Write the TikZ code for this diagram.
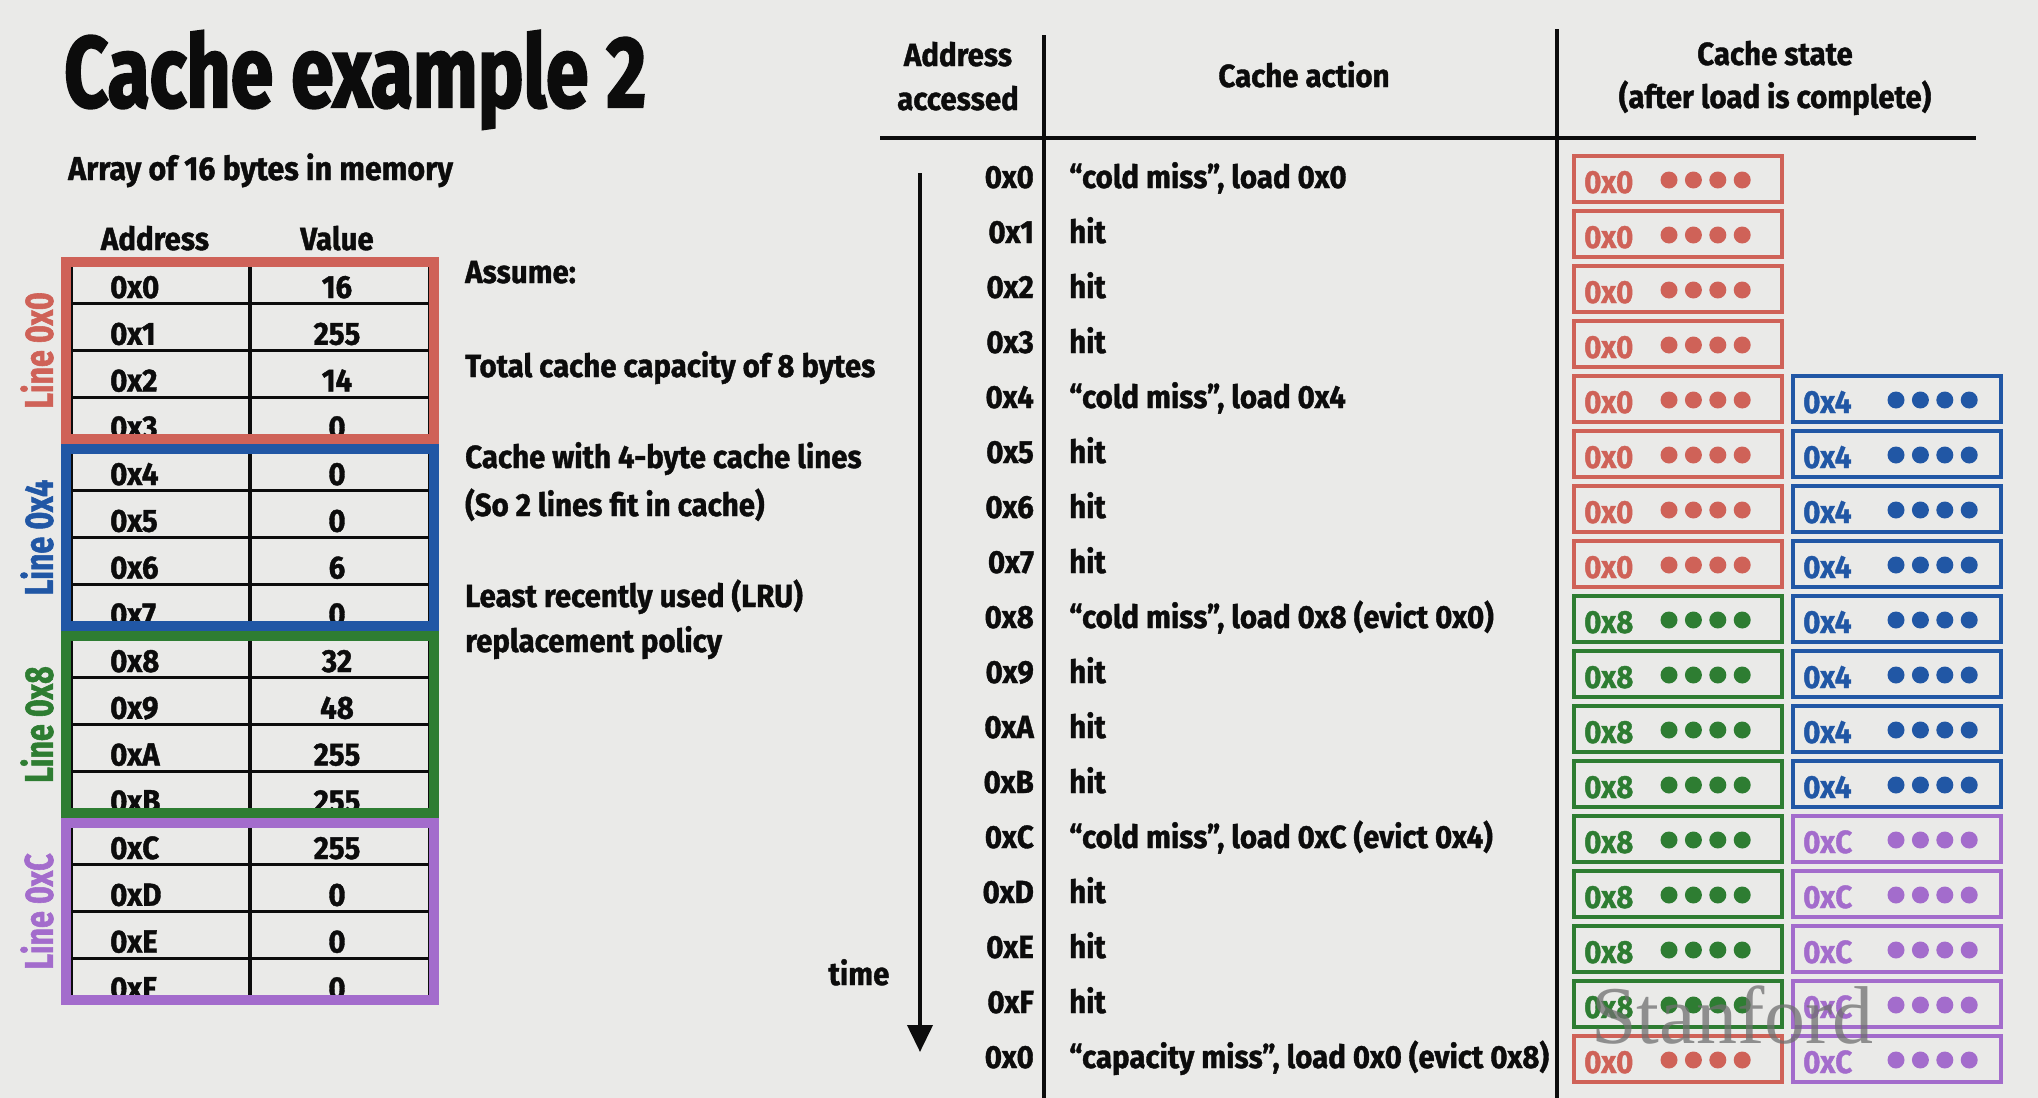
\documentclass[tikz,border=0pt]{standalone}
\usepackage{fontspec}
\setmainfont{Fira Sans}[FakeStretch=0.92, BoldFeatures={FakeBold=1.2}]
\newfontfamily\titlefont{Fira Sans}[FakeStretch=0.76, BoldFeatures={FakeBold=2}]
\newfontfamily\labelfont{Fira Sans}[FakeStretch=0.76, BoldFeatures={FakeBold=1.4}]
\newfontfamily\wmfont{Liberation Serif}
\usetikzlibrary{arrows.meta}
\definecolor{bg}{RGB}{234,234,232}
\definecolor{ink}{RGB}{12,12,12}
\definecolor{cred}{RGB}{207,98,88}
\definecolor{cblue}{RGB}{33,87,165}
\definecolor{cgreen}{RGB}{46,125,50}
\definecolor{cpurple}{RGB}{163,108,204}
\tikzset{
  txt/.style={font=\fontsize{32}{36}\selectfont\bfseries, inner sep=0pt, text=ink},
  hdr/.style={font=\fontsize{32}{36}\selectfont\bfseries, inner sep=0pt, text=ink},
  lbl/.style={font=\labelfont\fontsize{40}{44}\selectfont\bfseries, inner sep=0pt, rotate=90},
  cbox/.style={minimum width=208pt, minimum height=46pt, line width=3.5pt, inner sep=0pt},
  rule/.style={line width=3.5pt, draw=ink},
  grp/.style={line width=10pt},
  timearrow/.style={line width=4pt, draw=ink, -{Triangle[length=27pt,width=25pt]}},
}
\newcommand\cacherow[7]{%
  \pgfmathsetmacro\yb{188+55*#1}%
  \pgfmathsetmacro\yc{179+55*#1}%
  \node[txt, anchor=base east] (ad#1) at (1034,\yb) {#2};
  \node[txt, anchor=base west] (ac#1) at (1069,\yb) {#3};
  \node[cbox, draw=#4] (sa#1) at (1678,\yc) {};
  \node[txt, text=#4, anchor=base west] (sal#1) at (1584,\yb+5) {#5};
  \foreach \i in {0,...,3} {\fill[#4] (1669+24.4*\i,\yc+1) circle (8.5);}
  \if\relax\detokenize{#6}\relax\else
  \node[cbox, draw=#6] (sb#1) at (1897,\yc) {};
  \node[txt, text=#6, anchor=base west] (sbl#1) at (1803,\yb+5) {#7};
  \foreach \i in {0,...,3} {\fill[#6] (1896+24.4*\i,\yc+1) circle (8.5);}
  \fi
}
\begin{document}
\begin{tikzpicture}[x=1pt,y=-1pt]
\fill[bg] (0,0) rectangle (2038,1098);
\useasboundingbox (0,0) rectangle (2038,1098);

% title
\node[anchor=base west, inner sep=0pt, text=ink, font=\titlefont\fontsize{101}{110}\selectfont\bfseries] (title) at (64,107) {Cache example 2};
\node[anchor=base west, inner sep=0pt, text=ink, font=\fontsize{33}{36}\selectfont\bfseries] (arr) at (68,180) {Array of 16 bytes in memory};

% memory table
\node[txt, anchor=base] (hA) at (155,250) {Address};
\node[txt, anchor=base] (hV) at (337,250) {Value};
\foreach \k in {1,...,15} {\draw[line width=3.3pt, ink] (66,257+46.75*\k) -- (434,257+46.75*\k);}
\draw[line width=2pt, ink] (71.5,257) -- (71.5,1005);
\draw[line width=2pt, ink] (428.5,257) -- (428.5,1005);
\draw[line width=3.3pt, ink] (250,257) -- (250,1005);
\foreach \k/\a/\v in {0/0x0/16,1/0x1/255,2/0x2/14,3/0x3/0,4/0x4/0,5/0x5/0,6/0x6/6,7/0x7/0,8/0x8/32,9/0x9/48,10/0xA/255,11/0xB/255,12/0xC/255,13/0xD/0,14/0xE/0,15/0xF/0} {
  \node[txt, anchor=base west] (ma\k) at (110,298+46.75*\k) {\a};
  \node[txt, anchor=base] (mv\k) at (337,298+46.75*\k) {\v};
}
\foreach \g/\c/\l in {0/cred/0x0,1/cblue/0x4,2/cgreen/0x8,3/cpurple/0xC} {
  \draw[grp, draw=\c] (66,257+187*\g+5) rectangle (434,257+187*\g+182);
  \node[lbl, text=\c] (line\g) at (37,257+187*\g+93.5) {Line \l};
}

% assumptions
\node[hdr, anchor=base west] (as0) at (465,283) {Assume:};
\node[hdr, anchor=base west] (as1) at (465,377) {Total cache capacity of 8 bytes};
\node[hdr, anchor=base west] (as2) at (465,468) {Cache with 4-byte cache lines};
\node[hdr, anchor=base west] (as3) at (465,516) {(So 2 lines fit in cache)};
\node[hdr, anchor=base west] (as4) at (465,607) {Least recently used (LRU)};
\node[hdr, anchor=base west] (as5) at (465,652) {replacement policy};

% right table headers
\node[hdr, anchor=base] (h1a) at (958,66) {Address};
\node[hdr, anchor=base] (h1b) at (958,110) {accessed};
\node[hdr, anchor=base] (h2) at (1304,87) {Cache action};
\node[hdr, anchor=base] (h3a) at (1775,65) {Cache state};
\node[hdr, anchor=base] (h3b) at (1775,108) {(after load is complete)};
\coordinate (v1t) at (1044,35); \coordinate (v1b) at (1044,1098);
\coordinate (v2t) at (1557,29); \coordinate (v2b) at (1557,1098);
\coordinate (hl) at (880,138); \coordinate (hr) at (1976,138);
\draw[rule] (v1t) -- (v1b);
\draw[rule] (v2t) -- (v2b);
\draw[rule, line width=4pt] (hl) -- (hr);

% time arrow
\coordinate (ts) at (920,173); \coordinate (te) at (920,1052);
\draw[timearrow] (ts) -- (te);
\node[hdr, anchor=base] (time) at (859,985) {time};

% rows
\cacherow{0}{0x0}{“cold miss”, load 0x0}{cred}{0x0}{}{}
\cacherow{1}{0x1}{hit}{cred}{0x0}{}{}
\cacherow{2}{0x2}{hit}{cred}{0x0}{}{}
\cacherow{3}{0x3}{hit}{cred}{0x0}{}{}
\cacherow{4}{0x4}{“cold miss”, load 0x4}{cred}{0x0}{cblue}{0x4}
\cacherow{5}{0x5}{hit}{cred}{0x0}{cblue}{0x4}
\cacherow{6}{0x6}{hit}{cred}{0x0}{cblue}{0x4}
\cacherow{7}{0x7}{hit}{cred}{0x0}{cblue}{0x4}
\cacherow{8}{0x8}{“cold miss”, load 0x8 (evict 0x0)}{cgreen}{0x8}{cblue}{0x4}
\cacherow{9}{0x9}{hit}{cgreen}{0x8}{cblue}{0x4}
\cacherow{10}{0xA}{hit}{cgreen}{0x8}{cblue}{0x4}
\cacherow{11}{0xB}{hit}{cgreen}{0x8}{cblue}{0x4}
\cacherow{12}{0xC}{“cold miss”, load 0xC (evict 0x4)}{cgreen}{0x8}{cpurple}{0xC}
\cacherow{13}{0xD}{hit}{cgreen}{0x8}{cpurple}{0xC}
\cacherow{14}{0xE}{hit}{cgreen}{0x8}{cpurple}{0xC}
\cacherow{15}{0xF}{hit}{cgreen}{0x8}{cpurple}{0xC}
\cacherow{16}{0x0}{“capacity miss”, load 0x0 (evict 0x8)}{cred}{0x0}{cpurple}{0xC}

% watermark
\node[anchor=base west, inner sep=0pt, text=black!56, opacity=0.75, font=\wmfont\fontsize{82}{90}\selectfont] (wm) at (1591,1043) {Stanford};
\end{tikzpicture}
\end{document}
